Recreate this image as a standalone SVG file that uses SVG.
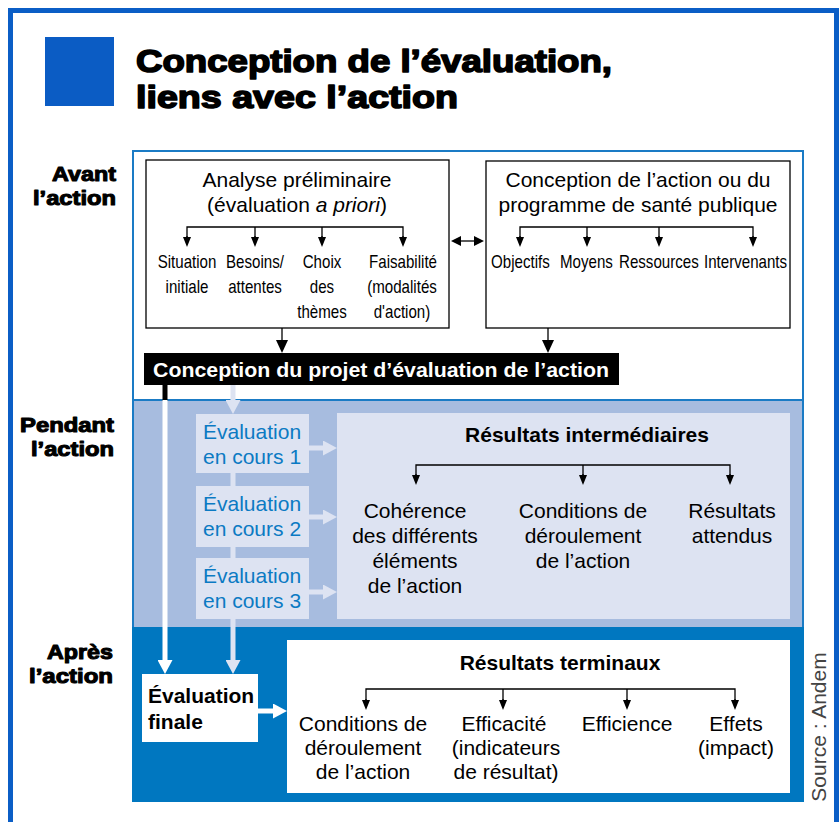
<svg xmlns="http://www.w3.org/2000/svg" width="840" height="822" viewBox="0 0 840 822">
  <defs>
    <style>
      .frame{fill:none;stroke:#0b5ec6;stroke-width:5}
      .sec{stroke:#1a7bc5;stroke-width:2}
      .box{fill:#fff;stroke:#000;stroke-width:1.3}
      .pale{fill:#dde3f2}
      .t{font-family:"Liberation Sans",Arial,Helvetica,sans-serif;font-size:21px;fill:#000}
      .c{text-anchor:middle}
      .r{text-anchor:end}
      .n{font-family:"Liberation Sans",Arial,sans-serif;font-size:19px;fill:#000;text-anchor:middle}
      .ns{font-family:"Liberation Sans",Arial,sans-serif;font-size:19px;fill:#000}
      .b{font-weight:bold}
      .heavy{font-family:"Liberation Sans",Arial,sans-serif;font-weight:bold;fill:#000;stroke:#000;stroke-width:1.6;paint-order:stroke;stroke-linejoin:round}
      .phase{stroke-width:1.1}
      .blue{fill:#0b7ac3}
      .ln{fill:none;stroke:#000;stroke-width:1.3}
      .lt{fill:none;stroke:#dde3f2;stroke-width:5}
      .wt{fill:none;stroke:#fff;stroke-width:5}
    </style>
    <marker id="ah" markerUnits="userSpaceOnUse" markerWidth="10" markerHeight="8" refX="0" refY="4" orient="auto">
      <path d="M0,0L10,4L0,8z" fill="#000"/>
    </marker>
    <marker id="ah2" markerUnits="userSpaceOnUse" markerWidth="10" markerHeight="10" refX="0" refY="5" orient="auto-start-reverse">
      <path d="M0,0L10,5L0,10z" fill="#000"/>
    </marker>
    <marker id="ahL" markerUnits="userSpaceOnUse" markerWidth="13" markerHeight="12" refX="0" refY="6" orient="auto">
      <path d="M0,0L13,6L0,12z" fill="#000"/>
    </marker>
    <marker id="ahPale" markerUnits="userSpaceOnUse" markerWidth="14" markerHeight="15" refX="0" refY="7.5" orient="auto">
      <path d="M0,0L14,7.5L0,15z" fill="#dde3f2"/>
    </marker>
    <marker id="ahWhite" markerUnits="userSpaceOnUse" markerWidth="14" markerHeight="15" refX="0" refY="7.5" orient="auto">
      <path d="M0,0L14,7.5L0,15z" fill="#fff"/>
    </marker>
  </defs>

  <!-- page background and outer frame -->
  <rect x="0" y="0" width="840" height="822" fill="#fff"/>
  <rect class="frame" x="10.5" y="10.5" width="826" height="830"/>

  <!-- title -->
  <g id="title">
    <rect x="45" y="37" width="69" height="69" fill="#0b5cc4"/>
    <text class="heavy" x="136" y="72" font-size="32" textLength="476" lengthAdjust="spacingAndGlyphs">Conception de l’évaluation,</text>
    <text class="heavy" x="136" y="108" font-size="32" textLength="322" lengthAdjust="spacingAndGlyphs">liens avec l’action</text>
  </g>

  <!-- phase labels -->
  <g id="phase-labels">
    <text class="heavy phase r" x="116" y="181" font-size="21" textLength="64" lengthAdjust="spacingAndGlyphs">Avant</text>
    <text class="heavy phase r" x="116" y="205" font-size="21" textLength="83" lengthAdjust="spacingAndGlyphs">l’action</text>
    <text class="heavy phase r" x="114" y="432" font-size="21" textLength="94" lengthAdjust="spacingAndGlyphs">Pendant</text>
    <text class="heavy phase r" x="114" y="456" font-size="21" textLength="83" lengthAdjust="spacingAndGlyphs">l’action</text>
    <text class="heavy phase r" x="113" y="659" font-size="21" textLength="66" lengthAdjust="spacingAndGlyphs">Après</text>
    <text class="heavy phase r" x="113" y="683" font-size="21" textLength="84" lengthAdjust="spacingAndGlyphs">l’action</text>
  </g>

  <!-- phase bands -->
  <g id="bands">
    <rect class="sec" x="133" y="151" width="670" height="249" fill="#fff"/>
    <rect class="sec" x="133" y="400" width="670" height="228" fill="#a7bcdf"/>
    <rect x="132" y="627" width="672" height="175" fill="#0077c0"/>
  </g>

  <!-- Analyse préliminaire (sub-items set in a condensed face) -->
  <g id="analyse">
    <rect class="box" x="146" y="160" width="303" height="168"/>
    <text class="t c" x="297" y="187">Analyse préliminaire</text>
    <text class="t c" x="297" y="212">(évaluation <tspan font-style="italic">a priori</tspan>)</text>
    <text class="n" transform="translate(187,268) scale(0.795,1)">Situation</text>
    <text class="n" transform="translate(187,293) scale(0.795,1)">initiale</text>
    <text class="n" transform="translate(255,268) scale(0.795,1)">Besoins/</text>
    <text class="n" transform="translate(255,293) scale(0.795,1)">attentes</text>
    <text class="n" transform="translate(322,268) scale(0.795,1)">Choix</text>
    <text class="n" transform="translate(322,293) scale(0.795,1)">des</text>
    <text class="n" transform="translate(322,318) scale(0.795,1)">thèmes</text>
    <text class="n" transform="translate(403,268) scale(0.795,1)">Faisabilité</text>
    <text class="n" transform="translate(402,293) scale(0.795,1)">(modalités</text>
    <text class="n" transform="translate(402,318) scale(0.795,1)">d'action)</text>
  </g>

  <!-- Conception de l'action -->
  <g id="conception-action">
    <rect class="box" x="486" y="161" width="304" height="167"/>
    <text class="t c" x="638" y="187">Conception de l’action ou du</text>
    <text class="t c" x="638" y="212">programme de santé publique</text>
    <text class="ns" transform="translate(491,268) scale(0.795,1)">Objectifs</text>
    <text class="ns" transform="translate(560,268) scale(0.795,1)">Moyens</text>
    <text class="ns" transform="translate(619,268) scale(0.795,1)">Ressources</text>
    <text class="ns" transform="translate(704,268) scale(0.795,1)">Intervenants</text>
  </g>

  <!-- evaluation design bar -->
  <g id="projet-evaluation">
    <rect x="144" y="353" width="475" height="32" fill="#000"/>
    <text class="t b" x="153" y="377" style="fill:#fff" textLength="456" lengthAdjust="spacingAndGlyphs">Conception du projet d’évaluation de l’action</text>
  </g>

  <!-- ongoing evaluations -->
  <g id="eval-1">
    <rect class="pale" x="196" y="414" width="113" height="59"/>
    <text class="t blue" x="203" y="439">Évaluation</text>
    <text class="t blue" x="203" y="464">en cours 1</text>
  </g>
  <g id="eval-2">
    <rect class="pale" x="196" y="486" width="113" height="61"/>
    <text class="t blue" x="203" y="511">Évaluation</text>
    <text class="t blue" x="203" y="536">en cours 2</text>
  </g>
  <g id="eval-3">
    <rect class="pale" x="196" y="558" width="113" height="61"/>
    <text class="t blue" x="203" y="583">Évaluation</text>
    <text class="t blue" x="203" y="608">en cours 3</text>
  </g>

  <!-- intermediate results -->
  <g id="resultats-intermediaires">
    <rect class="pale" x="337" y="413" width="453" height="206"/>
    <text class="t b c" x="587" y="442">Résultats intermédiaires</text>
    <text class="t c" x="415" y="518">Cohérence</text>
    <text class="t c" x="415" y="543">des différents</text>
    <text class="t c" x="415" y="568">éléments</text>
    <text class="t c" x="415" y="593">de l’action</text>
    <text class="t c" x="583" y="518">Conditions de</text>
    <text class="t c" x="583" y="543">déroulement</text>
    <text class="t c" x="583" y="568">de l’action</text>
    <text class="t c" x="732" y="518">Résultats</text>
    <text class="t c" x="732" y="543">attendus</text>
  </g>

  <!-- final evaluation -->
  <g id="eval-finale">
    <rect x="142" y="674" width="116" height="68" fill="#fff"/>
    <text class="t b" x="148" y="703">Évaluation</text>
    <text class="t b" x="148" y="729">finale</text>
  </g>

  <!-- terminal results -->
  <g id="resultats-terminaux">
    <rect x="287" y="640" width="503" height="153" fill="#fff"/>
    <text class="t b c" x="560" y="670">Résultats terminaux</text>
    <text class="t c" x="363" y="731">Conditions de</text>
    <text class="t c" x="363" y="755">déroulement</text>
    <text class="t c" x="363" y="779">de l’action</text>
    <text class="t c" x="504" y="731">Efficacité</text>
    <text class="t c" x="506" y="755">(indicateurs</text>
    <text class="t c" x="506" y="779">de résultat)</text>
    <text class="t c" x="627" y="731">Efficience</text>
    <text class="t c" x="736" y="731">Effets</text>
    <text class="t c" x="736" y="755">(impact)</text>
  </g>

  <!-- connectors -->
  <g id="connectors">
    <!-- analyse préliminaire brackets -->
    <path class="ln" d="M187,237V227H403V237M255,227V237M322,227V237"/>
    <g marker-end="url(#ah)" class="ln">
      <path d="M187,236V237"/><path d="M255,236V237"/><path d="M322,236V237"/><path d="M403,236V237"/>
    </g>
    <!-- conception de l'action brackets -->
    <path class="ln" d="M520,237V227H753V237M587,227V237M659,227V237"/>
    <g marker-end="url(#ah)" class="ln">
      <path d="M520,236V237"/><path d="M587,236V237"/><path d="M659,236V237"/><path d="M753,236V237"/>
    </g>
    <!-- two-way link between the two planning boxes -->
    <path class="ln" d="M461,241H474" marker-start="url(#ah2)" marker-end="url(#ah2)"/>
    <!-- planning boxes to evaluation design -->
    <path class="ln" d="M282,328V340" marker-end="url(#ahL)"/>
    <path class="ln" d="M548,328V340" marker-end="url(#ahL)"/>

    <!-- final evaluation line from the design bar -->
    <path d="M165,385V401" fill="none" stroke="#000" stroke-width="5"/>
    <path class="wt" d="M165,400V660" marker-end="url(#ahWhite)"/>

    <!-- ongoing evaluation chain -->
    <path class="lt" d="M233,385V400" marker-end="url(#ahPale)"/>
    <path class="lt" d="M233,473V486M233,547V558"/>
    <path class="lt" d="M233,619V660" marker-end="url(#ahPale)"/>
    <path class="lt" d="M309,448H323" marker-end="url(#ahPale)"/>
    <path class="lt" d="M309,517H323" marker-end="url(#ahPale)"/>
    <path class="lt" d="M309,592H323" marker-end="url(#ahPale)"/>

    <!-- final evaluation to terminal results -->
    <path class="wt" d="M258,711H273" marker-end="url(#ahWhite)"/>

    <!-- intermediate results bracket -->
    <path class="ln" d="M416,475V465H730V475M583,465V475"/>
    <g marker-end="url(#ah)" class="ln">
      <path d="M416,474V475"/><path d="M583,474V475"/><path d="M730,474V475"/>
    </g>
    <!-- terminal results bracket -->
    <path class="ln" d="M366,700V689H735V700M503,689V700M627,689V700"/>
    <g marker-end="url(#ah)" class="ln">
      <path d="M366,699V700"/><path d="M503,699V700"/><path d="M627,699V700"/><path d="M735,699V700"/>
    </g>
  </g>

  <!-- source credit -->
  <text class="t c" transform="translate(826,727) rotate(-90)" font-size="18" style="fill:#444">Source : Andem</text>
</svg>
